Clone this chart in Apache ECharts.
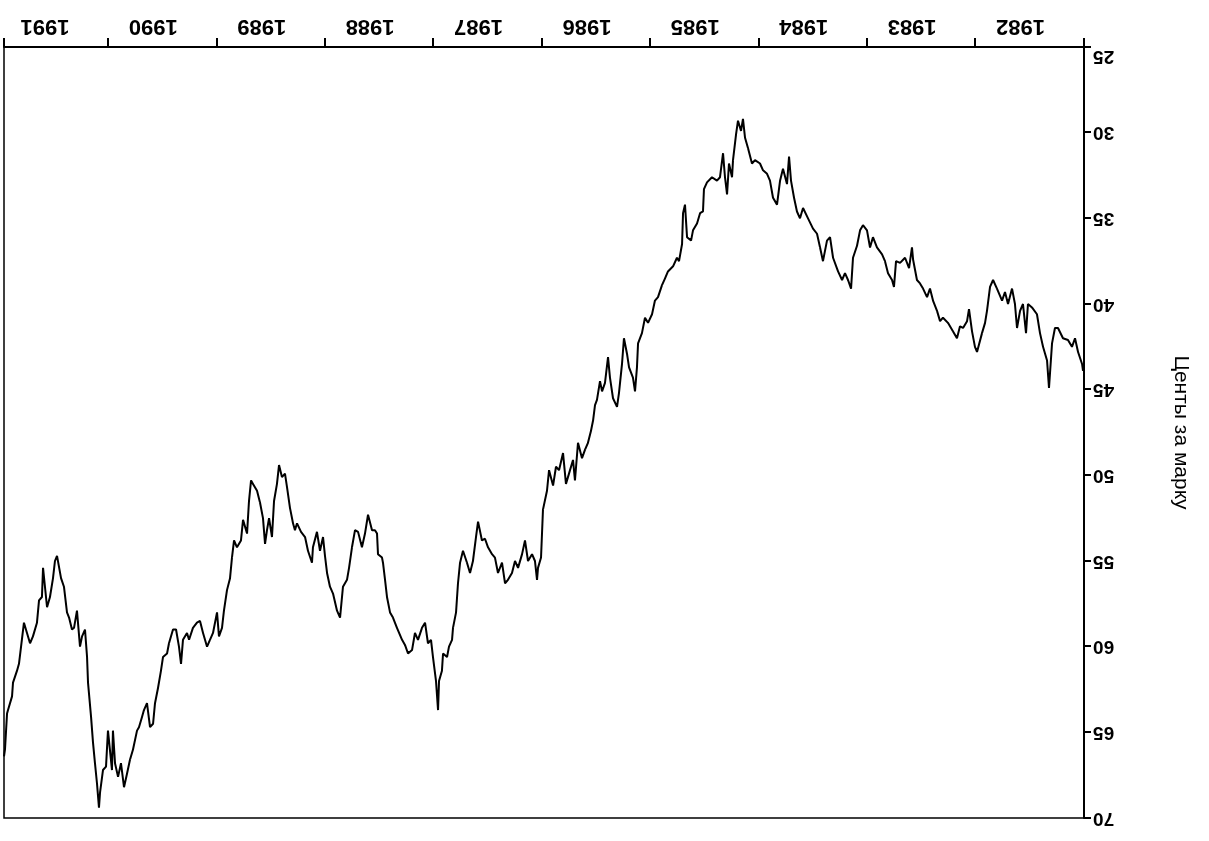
<!DOCTYPE html>
<html>
<head>
<meta charset="utf-8">
<script src="https://cdn.jsdelivr.net/npm/echarts@6/dist/echarts.min.js"></script>
<style>
html,body{margin:0;padding:0;background:#fff;}
#chart{width:1209px;height:841px;transform:rotate(180deg);transform-origin:50% 50%;}
</style>
</head>
<body>
<div id="chart"></div>
<script>
const axisName = 'Центы за марку';
const xMin = 1982, xMax = 1991.963, xStep = 1;
const yMin = 25, yMax = 70, yStep = 5;

const years = [
1982.009,1982.018,1982.055,1982.083,1982.111,1982.148,1982.194,1982.240,1982.268,1982.295,
1982.323,1982.341,1982.378,1982.406,1982.434,1982.480,1982.517,1982.535,1982.563,1982.590,
1982.618,1982.637,1982.664,1982.701,1982.729,1982.756,1982.803,1982.839,1982.867,1982.895,
1982.913,1982.941,1982.987,1983.006,1983.033,1983.061,1983.079,1983.116,1983.144,1983.172,
1983.208,1983.255,1983.301,1983.328,1983.356,1983.393,1983.421,1983.448,1983.485,1983.513,
1983.541,1983.577,1983.587,1983.614,1983.651,1983.697,1983.734,1983.753,1983.771,1983.808,
1983.836,1983.863,1983.910,1983.947,1983.974,1984.002,1984.039,1984.066,1984.094,1984.131,
1984.149,1984.177,1984.205,1984.232,1984.269,1984.315,1984.343,1984.371,1984.408,1984.435,
1984.463,1984.500,1984.546,1984.592,1984.620,1984.648,1984.675,1984.703,1984.721,1984.740,
1984.777,1984.804,1984.832,1984.869,1984.897,1984.924,1984.961,1984.989,1985.035,1985.063,
1985.100,1985.127,1985.146,1985.164,1985.192,1985.210,1985.238,1985.247,1985.275,1985.293,
1985.312,1985.330,1985.358,1985.386,1985.432,1985.478,1985.506,1985.515,1985.542,1985.570,
1985.607,1985.625,1985.662,1985.681,1985.699,1985.708,1985.736,1985.755,1985.791,1985.838,
1985.865,1985.893,1985.930,1985.958,1985.985,1986.022,1986.050,1986.078,1986.114,1986.124,
1986.142,1986.161,1986.197,1986.216,1986.244,1986.262,1986.290,1986.308,1986.345,1986.373,
1986.391,1986.419,1986.446,1986.465,1986.493,1986.511,1986.529,1986.548,1986.576,1986.603,
1986.631,1986.668,1986.696,1986.714,1986.751,1986.779,1986.806,1986.843,1986.871,1986.898,
1986.935,1986.954,1986.991,1987.009,1987.037,1987.046,1987.065,1987.092,1987.129,1987.157,
1987.184,1987.221,1987.249,1987.277,1987.314,1987.341,1987.369,1987.406,1987.434,1987.461,
1987.498,1987.526,1987.554,1987.590,1987.609,1987.637,1987.664,1987.692,1987.729,1987.756,
1987.775,1987.793,1987.821,1987.830,1987.858,1987.876,1987.913,1987.923,1987.950,1987.959,
1987.978,1988.006,1988.024,1988.052,1988.079,1988.107,1988.144,1988.172,1988.199,1988.236,
1988.264,1988.291,1988.338,1988.375,1988.402,1988.430,1988.448,1988.467,1988.476,1988.513,
1988.522,1988.541,1988.568,1988.605,1988.633,1988.661,1988.697,1988.725,1988.753,1988.780,
1988.799,1988.836,1988.863,1988.891,1988.928,1988.956,1988.983,1989.002,1989.020,1989.048,
1989.076,1989.113,1989.122,1989.159,1989.186,1989.223,1989.260,1989.279,1989.297,1989.325,
1989.352,1989.371,1989.399,1989.426,1989.445,1989.472,1989.491,1989.518,1989.537,1989.555,
1989.574,1989.601,1989.629,1989.666,1989.684,1989.703,1989.721,1989.758,1989.777,1989.814,
1989.841,1989.860,1989.878,1989.906,1989.934,1989.952,1989.980,1989.998,1990.035,1990.063,
1990.090,1990.127,1990.155,1990.183,1990.220,1990.256,1990.275,1990.312,1990.330,1990.349,
1990.376,1990.404,1990.441,1990.459,1990.496,1990.515,1990.542,1990.570,1990.588,1990.616,
1990.644,1990.672,1990.690,1990.718,1990.736,1990.773,1990.801,1990.828,1990.856,1990.884,
1990.911,1990.939,1990.958,1990.967,1991.004,1991.022,1991.050,1991.077,1991.087,1991.105,
1991.124,1991.142,1991.160,1991.188,1991.197,1991.216,1991.243,1991.262,1991.290,1991.317,
1991.336,1991.363,1991.382,1991.410,1991.437,1991.474,1991.493,1991.511,1991.539,1991.566,
1991.603,1991.613,1991.640,1991.659,1991.696,1991.723,1991.751,1991.779,1991.797,1991.825,
1991.843,1991.880,1991.889,1991.926,1991.935,1991.954,1991.963
];

const centsPerMark = [
43.9,43.5,42.8,42.0,42.5,42.1,42.0,41.4,41.4,42.3,
44.9,43.3,42.5,41.7,40.6,40.2,40.0,41.7,40.0,40.4,
41.4,40.0,39.1,40.0,39.3,39.8,39.1,38.6,39.0,40.4,
41.1,41.7,42.8,42.5,41.6,40.3,41.0,41.4,41.3,42.0,
41.6,41.1,40.8,41.0,40.4,39.8,39.1,39.6,39.1,38.8,
38.6,37.4,36.7,37.9,37.3,37.6,37.5,39.0,38.6,38.2,
37.5,37.1,36.7,36.1,36.7,35.7,35.4,35.7,36.6,37.3,
39.1,38.6,38.2,38.6,38.1,37.3,36.1,36.3,37.5,36.7,
35.9,35.6,35.0,34.4,35.0,34.6,33.8,32.8,31.4,33.0,
32.1,32.8,34.2,33.8,32.8,32.4,32.2,31.8,31.6,31.8,
30.9,30.3,29.2,29.9,29.3,30.1,31.6,32.6,31.8,33.6,
32.6,31.2,32.6,32.8,32.6,32.9,33.3,34.6,34.7,35.3,
35.7,36.3,36.1,34.2,34.7,36.5,37.5,37.3,37.8,38.1,
38.5,38.9,39.6,39.8,40.6,41.1,40.8,41.7,42.3,43.7,
45.1,44.3,43.7,42.9,42.0,43.5,45.2,46.0,45.5,44.3,
43.1,44.6,45.1,44.5,45.6,45.9,46.8,47.4,48.1,48.5,
49.0,48.1,50.3,49.1,49.9,50.5,48.7,49.7,49.5,50.6,
49.7,50.9,52.0,54.8,55.4,56.1,55.0,54.6,55.0,53.8,
54.6,55.4,55.0,55.7,56.1,56.3,55.1,55.7,54.8,54.6,
54.2,53.7,53.8,52.7,53.6,55.0,55.7,55.1,54.4,55.1,
56.3,58.0,58.9,59.6,60.0,60.6,60.4,61.4,62.0,63.7,
62.0,60.6,59.6,59.8,58.6,58.9,59.6,59.2,60.2,60.4,
59.9,59.6,58.9,58.3,58.0,57.1,56.1,55.1,54.8,54.6,
53.4,53.2,53.2,52.3,53.4,54.2,53.3,53.2,54.2,55.4,
56.1,56.5,58.3,57.9,56.9,56.5,55.7,54.7,53.6,54.4,
53.3,54.2,55.1,54.4,53.6,53.3,52.8,53.2,52.8,51.9,
50.7,49.9,50.1,49.4,50.5,51.5,53.6,52.5,53.2,54.0,
52.5,51.6,50.9,50.5,50.3,51.5,53.4,52.6,53.8,54.2,
53.8,54.8,56.0,56.7,57.9,58.9,59.4,58.0,59.2,59.6,
60.0,59.2,58.5,58.6,58.9,59.6,59.2,59.6,61.0,60.0,
59.0,59.0,59.8,60.4,60.6,61.4,62.4,63.3,64.5,64.7,
63.3,63.7,64.1,64.7,64.9,66.0,66.6,67.4,68.2,66.8,
67.6,66.8,64.9,67.2,64.9,67.0,67.2,68.5,69.4,68.0,
66.8,65.6,64.1,62.1,60.6,59.0,59.4,60.0,57.9,58.9,
59.0,58.3,58.0,56.5,56.0,54.7,55.0,56.0,57.1,57.7,
55.4,57.1,57.3,58.6,59.4,59.8,59.2,58.6,58.5,61.0,
61.4,62.1,62.9,63.7,63.9,66.0,66.4
];

const seriesData = years.map((y, i) => [y, centsPerMark[i]]);

const chart = echarts.init(document.getElementById('chart'), null, {renderer: 'canvas'});
const FONT = "'Liberation Sans', Arial, sans-serif";
chart.setOption({
  animation: false,
  backgroundColor: '#fff',
  textStyle: {fontFamily: FONT, color: '#000'},
  grid: {left: 125, right: 4, top: 23, bottom: 47, show: true, borderColor: '#000', borderWidth: 1.5, backgroundColor: 'transparent'},
  xAxis: {
    type: 'value', min: xMin, max: xMax, interval: xStep,
    axisLine: {show: true, lineStyle: {color: '#000', width: 2}},
    axisTick: {show: true, length: 9, lineStyle: {color: '#000', width: 2}},
    splitLine: {show: false},
    axisLabel: {
      color: '#000', fontSize: 22, fontWeight: 'bold', fontFamily: FONT,
      margin: 10, align: 'left', padding: [0, 0, 0, 39],
      formatter: v => (Math.abs(v - Math.round(v)) < 1e-6 ? String(Math.round(v)) : '')
    }
  },
  yAxis: {
    type: 'value', min: yMin, max: yMax, interval: yStep,
    name: axisName, nameLocation: 'middle', nameGap: 86,
    nameTextStyle: {color: '#000', fontSize: 21, fontFamily: FONT},
    axisLine: {show: true, lineStyle: {color: '#000', width: 2}},
    axisTick: {show: true, length: 7, lineStyle: {color: '#000', width: 2}},
    splitLine: {show: false},
    axisLabel: {
      color: '#000', fontSize: 19, fontWeight: 'bold', fontFamily: FONT, margin: 9,
      formatter: v => (v === yMin ? '{low|' + v + '}' : String(v)),
      rich: {low: {color: '#000', fontSize: 19, fontWeight: 'bold', fontFamily: FONT, padding: [0, 0, 18, 0]}}
    }
  },
  series: [{
    type: 'line', data: seriesData, showSymbol: false, symbol: 'none',
    lineStyle: {color: '#000', width: 2}, z: 3
  }]
});
</script>
</body>
</html>
